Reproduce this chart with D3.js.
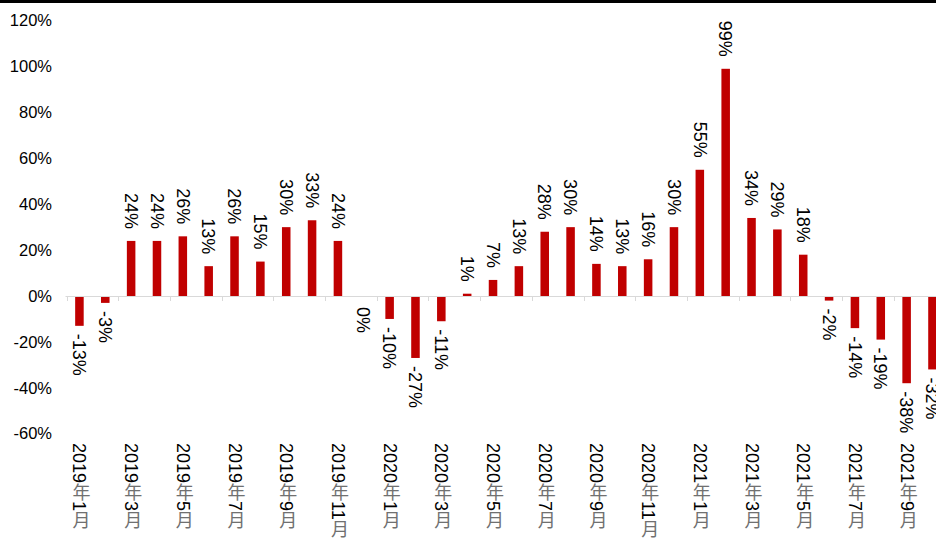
<!DOCTYPE html>
<html>
<head>
<meta charset="utf-8">
<script src="https://cdn.jsdelivr.net/npm/d3@7"></script>
<style>
	body { margin: 0; background: #fff; }
	svg { display: block; font-family: Arial, "Liberation Sans", "Noto Sans CJK SC", sans-serif; }
</style>
</head>
<body>
<svg id="chart" width="936" height="543"></svg>
<script>

// months, 2019-01 .. 2021-10
var months = [
	'2019年1月', '2019年2月', '2019年3月', '2019年4月', '2019年5月', '2019年6月',
	'2019年7月', '2019年8月', '2019年9月', '2019年10月', '2019年11月', '2019年12月',
	'2020年1月', '2020年2月', '2020年3月', '2020年4月', '2020年5月', '2020年6月',
	'2020年7月', '2020年8月', '2020年9月', '2020年10月', '2020年11月', '2020年12月',
	'2021年1月', '2021年2月', '2021年3月', '2021年4月', '2021年5月', '2021年6月',
	'2021年7月', '2021年8月', '2021年9月', '2021年10月'
];

// year-on-year change, %
var growth = [
	-13, -3, 24, 24, 26, 13, 26, 15, 30, 33, 24, 0,
	-10, -27, -11, 1, 7, 13, 28, 30, 14, 13, 16, 30,
	55, 99, 34, 29, 18, -2, -14, -19, -38, -32
];

var yTicks = [-60, -40, -20, 0, 20, 40, 60, 80, 100, 120];

var svg = d3.select('#chart');

var left = 66.5;
var step = 25.85;

var x = d3.scaleBand()
	.domain(months)
	.range([left, left + months.length * step])
	.paddingInner(0.67)
	.paddingOuter(0.335);

var y = d3.scaleLinear()
	.domain([-60, 120])
	.range([433.7, 20.6]);

// black strip on top
svg.append('rect')
	.attr('x', 0)
	.attr('y', 0)
	.attr('width', 936)
	.attr('height', 3)
	.attr('fill', '#000');

// y axis labels only
var yAxis = svg.append('g')
	.attr('transform', 'translate(52,0)')
	.call(d3.axisLeft(y).tickValues(yTicks).tickSize(0).tickPadding(0)
		.tickFormat(function (d) { return d + '%'; }));
yAxis.select('.domain').remove();
yAxis.selectAll('text')
	.attr('font-size', '16.5px')
	.attr('font-family', 'Arial, "Liberation Sans", sans-serif')
	.attr('fill', '#000');

// bars
svg.selectAll('rect.bar')
	.data(growth)
	.enter()
	.append('rect')
	.attr('class', 'bar')
	.attr('x', function (d, i) { return x(months[i]); })
	.attr('y', function (d) { return y(Math.max(0, d)); })
	.attr('width', x.bandwidth())
	.attr('height', function (d) { return Math.abs(y(d) - y(0)); })
	.attr('fill', '#C00000');

// x axis line and ticks
svg.append('line')
	.attr('x1', left - 1)
	.attr('x2', 936)
	.attr('y1', y(0) + 0.5)
	.attr('y2', y(0) + 0.5)
	.attr('stroke', '#d9d9d9')
	.attr('stroke-width', 1);

var tickMonths = months.filter(function (d, i) { return i % 2 === 0; });

svg.selectAll('line.tick')
	.data(tickMonths)
	.enter()
	.append('line')
	.attr('class', 'tick')
	.attr('x1', function (d) { return Math.round(x(d) - x.step() * x.paddingInner() / 2) + 0.5; })
	.attr('x2', function (d) { return Math.round(x(d) - x.step() * x.paddingInner() / 2) + 0.5; })
	.attr('y1', y(0))
	.attr('y2', y(0) + 5)
	.attr('stroke', '#d9d9d9');

// value labels, rotated
svg.selectAll('text.val')
	.data(growth)
	.enter()
	.append('text')
	.attr('class', 'val')
	.attr('transform', function (d, i) {
		var cx = x(months[i]) + x.bandwidth() / 2;
		var ty;
		if (d > 0) ty = y(d) - 12;
		else if (d < 0) ty = y(d) + 8;
		else ty = y(0) + 11;
		return 'translate(' + cx + ',' + ty + ') rotate(90)';
	})
	.attr('text-anchor', function (d) { return d > 0 ? 'end' : 'start'; })
	.attr('dy', '0.35em')
	.attr('font-size', '18px')
	.attr('fill', '#000')
	.text(function (d) { return d + '%'; });

// month labels, vertical writing; CJK glyphs render lighter
var cat = svg.selectAll('text.cat')
	.data(tickMonths)
	.enter()
	.append('text')
	.attr('class', 'cat')
	.attr('x', function (d) { return x(d) + x.bandwidth() / 2; })
	.attr('y', 443)
	.attr('style', 'writing-mode: vertical-rl')
	.attr('font-size', '18px')
	.attr('fill', '#000');

cat.selectAll('tspan')
	.data(function (d) { return d.match(/\d+|[^\d]/g); })
	.enter()
	.append('tspan')
	.attr('fill', function (s) { return /\d/.test(s) ? '#000' : '#707070'; })
	.text(function (s) { return s; });

</script>
</body>
</html>
